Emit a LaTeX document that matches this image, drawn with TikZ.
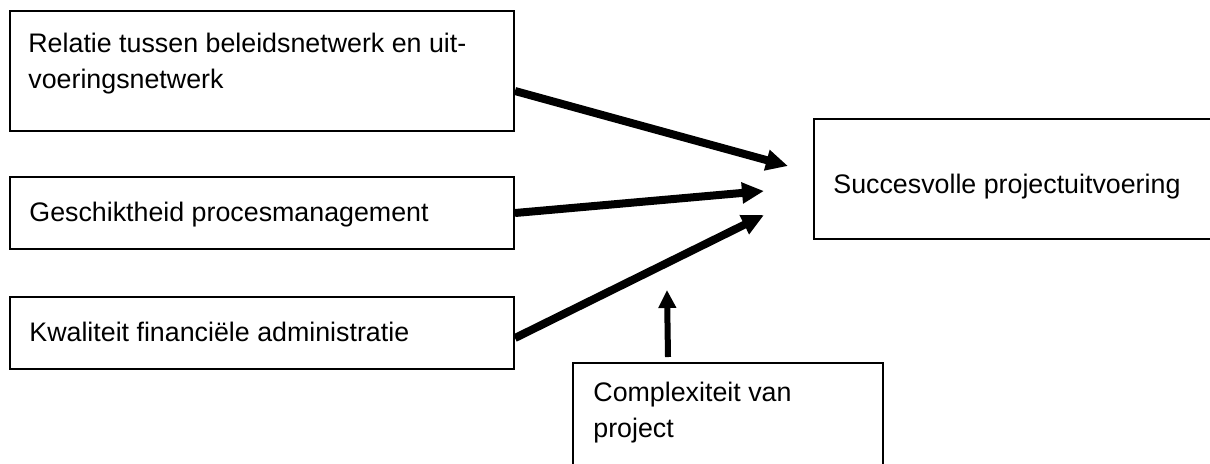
\documentclass[tikz,border=0pt]{standalone}
\usepackage{fontspec}
\setmainfont{Liberation Sans}
\usetikzlibrary{arrows.meta}
\begin{document}
\begin{tikzpicture}
  [x=0.5pt,y=-0.5pt,
   box/.style={rectangle,draw=black,line width=1pt,anchor=north west,inner sep=0pt},
   plain/.style={draw=none,fill=none,anchor=north west,align=left,inner sep=0pt,font=\fontsize{13.4}{18}\selectfont},
   link/.style={-{Triangle[length=11pt,width=10pt]},line width=4pt},
   small link/.style={-{Triangle[length=9pt,width=8.5pt]},line width=3pt}
  ]
  \useasboundingbox (0,0) rectangle (1210,463);

  \node[box,minimum width=252pt,minimum height=60pt] (rel) at (9,10) {};
  \node[box,minimum width=252pt,minimum height=36pt] (ges) at (9,176) {};
  \node[box,minimum width=252pt,minimum height=36pt] (kwa) at (9,296) {};
  \node[box,minimum width=210pt,minimum height=60pt] (suc) at (813,118) {};
  \node[box,minimum width=155pt,minimum height=75pt] (comp) at (572,362) {};

  \node[plain] (reltxt) at (28,33) {Relatie tussen beleidsnetwerk en uit-\\voeringsnetwerk};
  \node[plain] (gestxt) at (29,202) {Geschiktheid procesmanagement};
  \node[plain] (kwatxt) at (29,322) {Kwaliteit financiële administratie};
  \node[plain] (suctxt) at (833,174) {Succesvolle projectuitvoering};
  \node[plain] (comptxt) at (593,382) {Complexiteit van\\project};

  \coordinate (tip1) at (788,166);
  \coordinate (tip2) at (764,191);
  \coordinate (tip3) at (764,215);
  \coordinate (tip4) at (667,290);

  \draw[link] ([yshift=-10pt]rel.east) -- (tip1);
  \draw[link] (ges.east) -- (tip2);
  \draw[link] ([yshift=-2.5pt]kwa.east) -- (tip3);
  \draw[small link] ([shift={(-60,-5)}]comp.north) -- (tip4);
\end{tikzpicture}
\end{document}
